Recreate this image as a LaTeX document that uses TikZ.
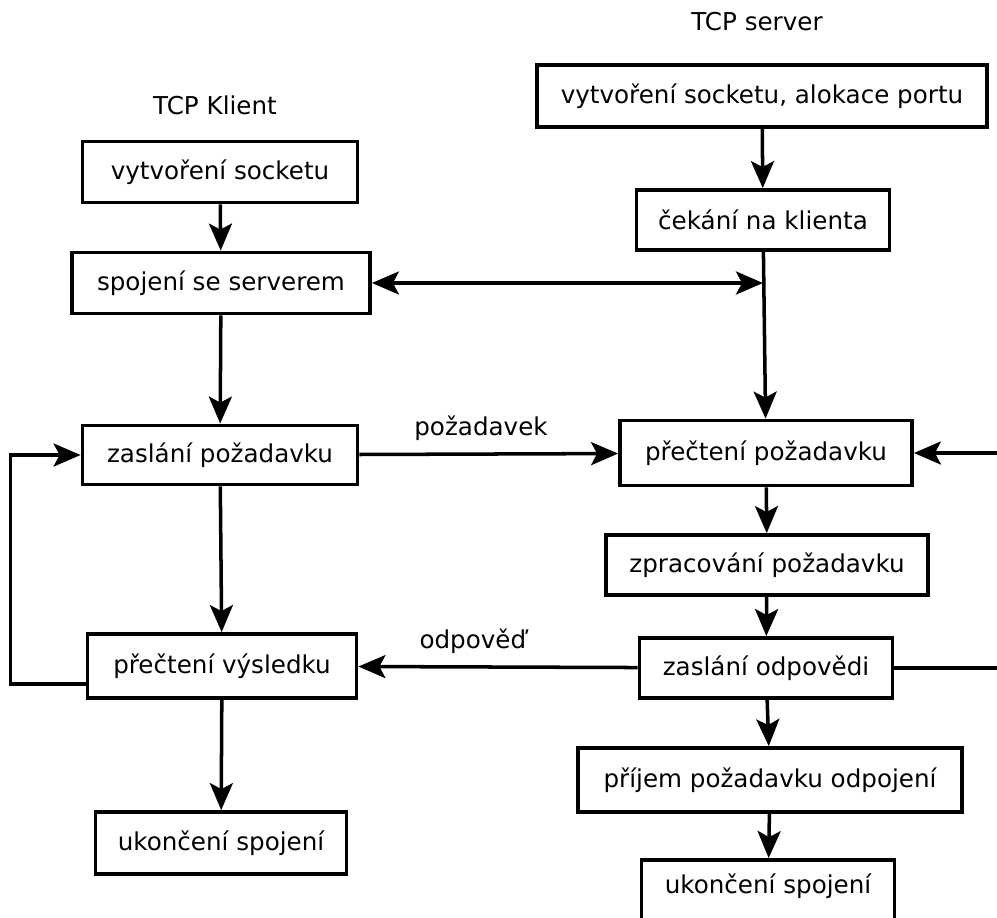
\documentclass[tikz,border=0pt]{standalone}
\usepackage{fontspec}
\setmainfont{DejaVu Sans}
\usepackage{tikz}
\usetikzlibrary{arrows.meta,positioning,calc}

\begin{document}
\begin{tikzpicture}[
  x=0.02cm, y=-0.02cm,
  box/.style={rectangle, draw, line width=2.2pt, minimum height=1.22cm, align=center, font=\fontsize{14}{17}\selectfont},
  lbl/.style={font=\fontsize{14}{17}\selectfont},
  arr/.style={-{Stealth[length=0.54cm, width=0.46cm, inset=0.12cm]}, line width=2pt},
  dblarr/.style={{Stealth[length=0.54cm, width=0.46cm, inset=0.12cm]}-{Stealth[length=0.54cm, width=0.46cm, inset=0.12cm]}, line width=2pt}
]
\useasboundingbox (0,0) rectangle (997,917);
\clip (0,0) rectangle (997,917);

% Client side
\node[lbl] (cli) at (215,105) {TCP Klient};
\node[box, minimum width=5.5cm] (clisock) at (220,172) {vytvoření socketu};
\node[box, minimum width=5.96cm] (connect) at (221,283) {spojení se serverem};
\node[box, minimum width=5.5cm, minimum height=1.18cm] (send) at (220,455) {zaslání požadavku};
\node[box, minimum width=5.38cm, minimum height=1.28cm] (readres) at (222,666) {přečtení výsledku};
\node[box, minimum width=5.02cm, minimum height=1.24cm] (cliend) at (221,843) {ukončení spojení};

% Server side
\node[lbl] (srv) at (757,22) {TCP server};
\node[box, minimum width=9cm, minimum height=1.24cm] (srvsock) at (762,96) {vytvoření socketu, alokace portu};
\node[box, minimum width=5.06cm, minimum height=1.2cm] (wait) at (763,220) {čekání na klienta};
\node[box, minimum width=5.84cm, minimum height=1.3cm] (readreq) at (766,453) {přečtení požadavku};
\node[box, minimum width=6.44cm, minimum height=1.2cm] (process) at (767,565) {zpracování požadavku};
\node[box, minimum width=5.06cm, minimum height=1.2cm] (reply) at (766,668) {zaslání odpovědi};
\node[box, minimum width=7.68cm, minimum height=1.28cm] (discon) at (770,780) {příjem požadavku odpojení};
\node[box, minimum width=5.06cm, minimum height=1.4cm, text depth=0.45cm] (srvend) at (768,895) {ukončení spojení};

% edge of the picture
\coordinate (inR) at (997,453);
\coordinate (outR) at (997,668);

% client flow
\draw[arr] (clisock) -- (connect);
\draw[arr] (connect) -- (send);
\draw[arr] (send) -- (readres);
\draw[arr] (readres) -- (cliend);
\draw[arr] ([yshift=-0.36cm]readres.west) -- ++(-75,0) |- (send.west);

% server flow
\draw[arr] (srvsock) -- (wait);
\draw[arr] (wait) -- (readreq);
\draw[arr] (readreq) -- (process);
\draw[arr] (process) -- (reply);
\draw[arr] (reply) -- (discon);
\draw[arr] (discon) -- (srvend);
\draw[arr] (inR) -- (readreq);
\draw[line width=2pt] (reply) -- (outR);

% between client and server
\draw[dblarr] (connect.east) -- (connect.east -| wait.south);
\draw[arr] (send) -- node[lbl, pos=0.47, above=0.12cm] (req) {požadavek} (readreq);
\draw[arr] (reply) -- node[lbl, pos=0.59, above=0.12cm] (resp) {odpověď} (readres);

\end{tikzpicture}
\end{document}
